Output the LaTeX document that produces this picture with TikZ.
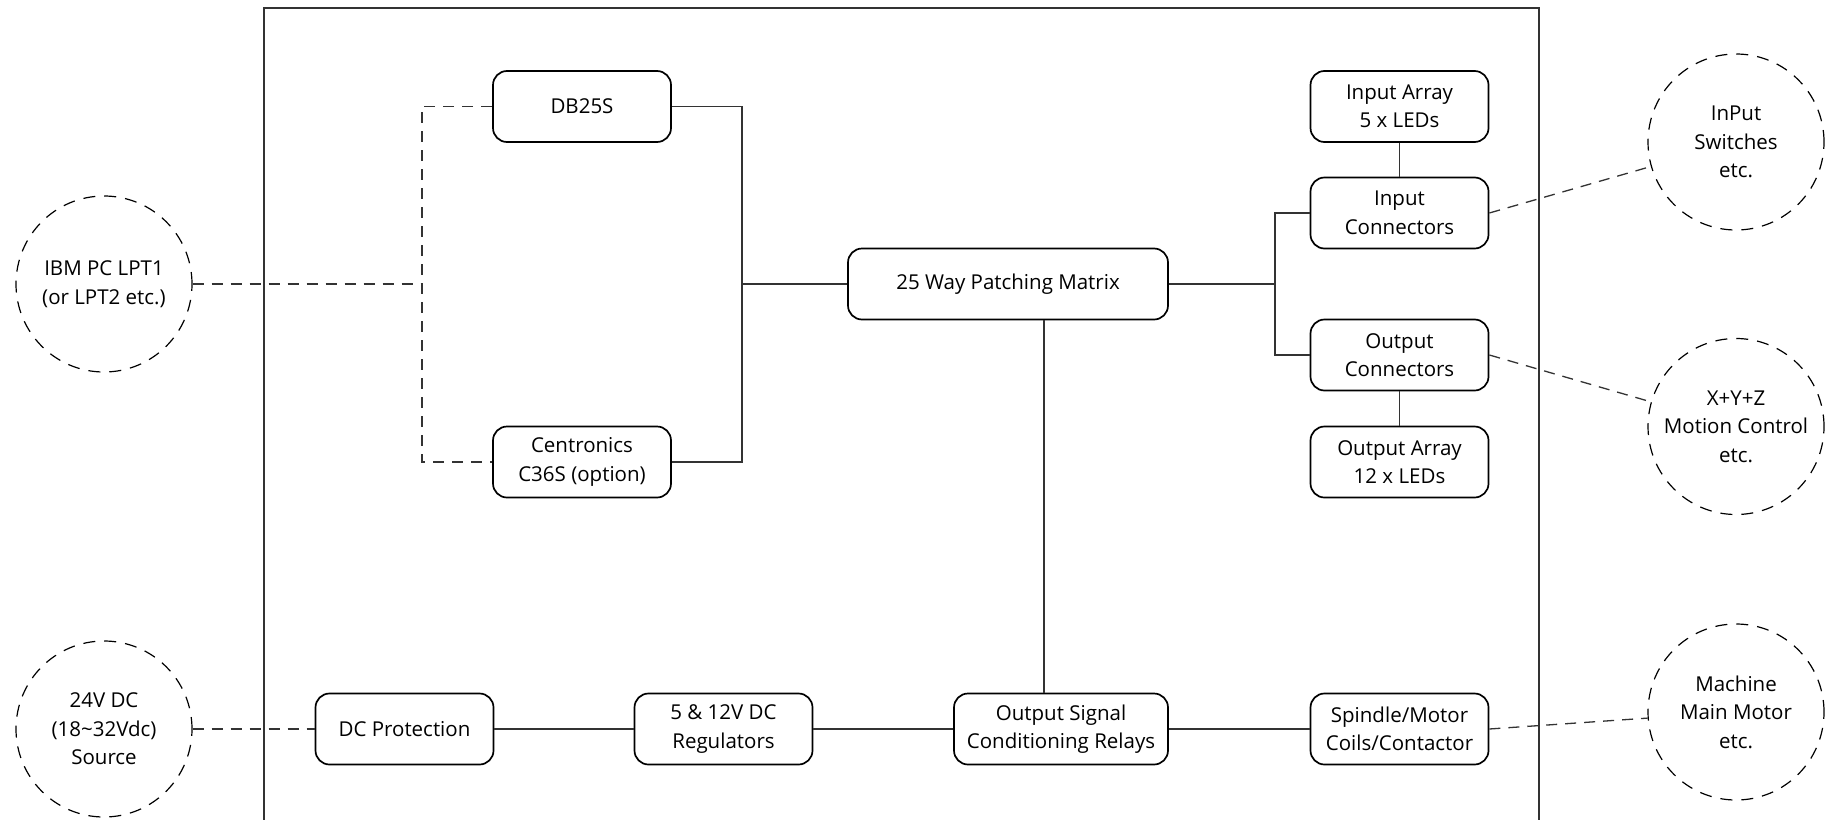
\documentclass[tikz,border=0pt]{standalone}
\usepackage{fontspec}
\setmainfont{Open Sans}
\begin{document}
\begin{tikzpicture}[x=1pt,y=-1pt,
  box/.style={draw, line width=1.7pt, rounded corners=14pt, minimum width=178pt, minimum height=71pt, align=center, inner sep=2pt, font=\fontsize{20.5}{28.5}\selectfont},
  ext/.style={draw, circle, minimum size=176pt, inner sep=0pt, line width=1.2pt, dash pattern=on 12pt off 9pt, align=center, font=\fontsize{20.5}{28.5}\selectfont},
  link/.style={line width=1.3pt, black!80},
  dlink/.style={link, dash pattern=on 11pt off 8pt}]
\clip (0,0) rectangle (1827,819);
% frame
\draw[link] (264,8) rectangle (1539,860);
% boxes
\node[box] (db) at (582,106.5) {DB25S};
\node[box] (cen) at (582,462) {Centronics\\C36S (option)};
\node[box, minimum width=320pt] (pm) at (1008,284) {25 Way Patching Matrix};
\node[box] (ia) at (1399.5,106.5) {Input Array\\5 x LEDs};
\node[box] (ic) at (1399.5,213) {Input\\Connectors};
\node[box] (oc) at (1399.5,355) {Output\\Connectors};
\node[box] (oa) at (1399.5,462) {Output Array\\12 x LEDs};
\node[box] (dcp) at (404.5,729) {DC Protection};
\node[box] (reg) at (723.5,729) {5 \& 12V DC\\Regulators};
\node[box, minimum width=214pt] (rel) at (1061,729) {Output Signal\\Conditioning Relays};
\node[box] (sp) at (1399.5,729) {Spindle/Motor\\Coils/Contactor};
% external circles
\node[ext] (pc) at (104,284) {IBM PC LPT1\\(or LPT2 etc.)};
\node[ext] (dc) at (104,729) {24V DC\\(18\textasciitilde32Vdc)\\Source};
\node[ext] (sw) at (1736,142) {InPut\\Switches\\etc.};
\node[ext] (xyz) at (1736,426.5) {X+Y+Z\hspace{1.2em}\\Motion Control\\etc.};
\node[ext] (mm) at (1736,712) {Machine\\Main Motor\\etc.};
% coordinates
\coordinate (lbt) at (422,106.5);
\coordinate (lbb) at (422,462);
\coordinate (rb) at (742,284);
\coordinate (ob) at (1275,284);
\coordinate (vx) at (1044,0);
% dashed left links
\draw[dlink] (db.west) -- (lbt) -- (lbb) -- (cen.west);
\draw[dlink] (pc.east) -- (pc.east -| lbt);
% solid links
\draw[link] (db.east) -| (rb) |- (cen.east);
\draw[link] (rb) -- (pm.west);
\draw[link] (pm.east) -- (ob);
\draw[link] (ic.west) -| (ob) |- (oc.west);
\draw[link] (ia) -- (ic);
\draw[link] (oc) -- (oa);
\draw[link] (pm.south -| vx) -- (rel.north -| vx);
\draw[link] (dcp.east) -- (reg.west);
\draw[link] (reg.east) -- (rel.west);
\draw[link] (rel.east) -- (sp.west);
% dashed external links
\draw[dlink] (dc.east) -- (dcp.west);
\draw[dlink] (ic.east) -- (sw);
\draw[dlink] (oc.east) -- (xyz);
\draw[dlink] (sp.east) -- (mm);
\end{tikzpicture}
\end{document}
